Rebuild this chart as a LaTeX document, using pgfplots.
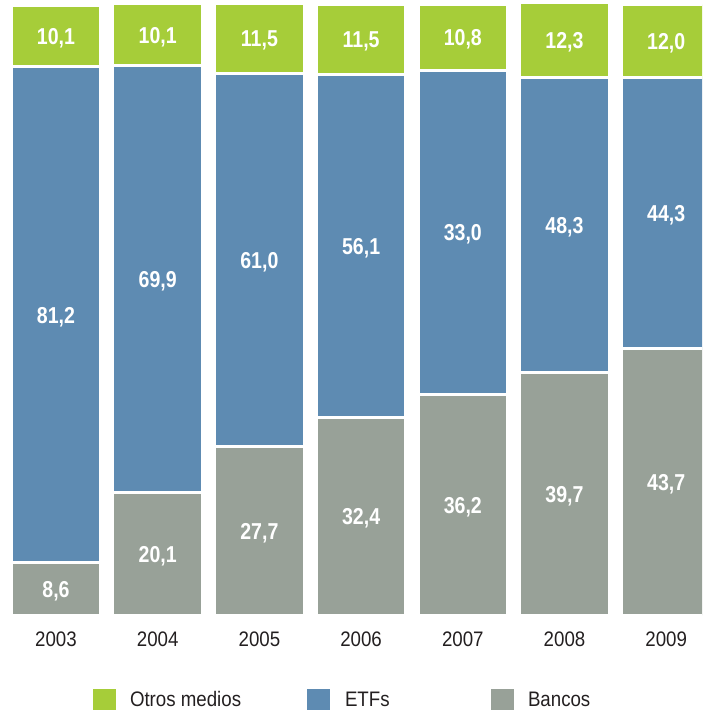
\documentclass[border=0pt]{standalone}
\usepackage{pgfplots}
\usepackage{pgfplotstable}
\pgfplotsset{compat=1.18}
\usepackage{fontspec}
\setmainfont[FakeStretch=0.89]{Liberation Sans}
\newfontfamily\lblfont[FakeStretch=0.85]{Liberation Sans}
\definecolor{cgreen}{HTML}{A6CD39}
\definecolor{cblue}{HTML}{5E8BB2}
\definecolor{cgray}{HTML}{98A198}
\definecolor{ctext}{HTML}{231F20}
\pgfplotstableread{
x b lb e le o lo
0 8.6 8,6 81.2 81,2 10.1 10,1
1 20.1 20,1 69.9 69,9 10.1 10,1
2 27.7 27,7 61.0 61,0 11.5 11,5
3 32.4 32,4 56.1 56,1 11.5 11,5
4 36.2 36,2 53.0 33,0 10.8 10,8
5 39.7 39,7 48.3 48,3 12.3 12,3
6 43.7 43,7 44.3 44,3 12.0 12,0
}\datatable
\begin{document}
\begin{tikzpicture}
\begin{axis}[
  name=ax,
  scale only axis,
  width=702pt, height=615.5pt,
  xmin=-0.5506, xmax=6.352,
  ymin=0, ymax=100.74,
  ybar stacked,
  bar width=89.5pt,
  axis line style={draw=none},
  tick style={draw=none},
  major tick length=0pt,
  ytick=\empty,
  xtick={0,...,6},
  xticklabels={2003,2004,2005,2006,2007,2008,2009},
  xticklabel style={anchor=base, yshift=-31.2pt, font=\fontsize{21}{21}\selectfont, text=ctext},
  point meta=explicit symbolic,
  nodes near coords,
  every node near coord/.append style={
    font=\lblfont\bfseries\fontsize{23}{23}\selectfont, text=white,
    anchor=base, yshift=-8.3pt},
  legend columns=3,
  reverse legend,
  legend cell align=left,
  legend style={draw=none, fill=none, inner sep=0pt, outer sep=0pt,
    column sep=0pt, row sep=0pt,
    /tikz/every even column/.style={column sep=0pt},
    /tikz/every odd column/.style={column sep=0pt},
    nodes={inner sep=0pt, font=\fontsize{21}{21}\selectfont, text=ctext},
    at={(0.13248,-0.13729)}, anchor=west},
  legend image code/.code={\fill[#1,draw=none] (0pt,-10.5pt) rectangle (23pt,10.5pt);},
]
\addplot[fill=cgray, draw=white, line width=3pt] table[x=x, y=b, meta=lb] {\datatable};
\addplot[fill=cblue, draw=white, line width=3pt] table[x=x, y=e, meta=le] {\datatable};
\addplot[fill=cgreen, draw=white, line width=3pt] table[x=x, y=o, meta=lo] {\datatable};
\legend{\hspace{14pt}Bancos, \makebox[161pt][l]{\hspace{15pt}ETFs}, \makebox[191pt][l]{\hspace{14pt}Otros medios}}
\end{axis}
\pgfresetboundingbox
\path[use as bounding box] ([yshift=-95.5pt]ax.south west) rectangle (ax.north east);
\end{tikzpicture}
\end{document}
